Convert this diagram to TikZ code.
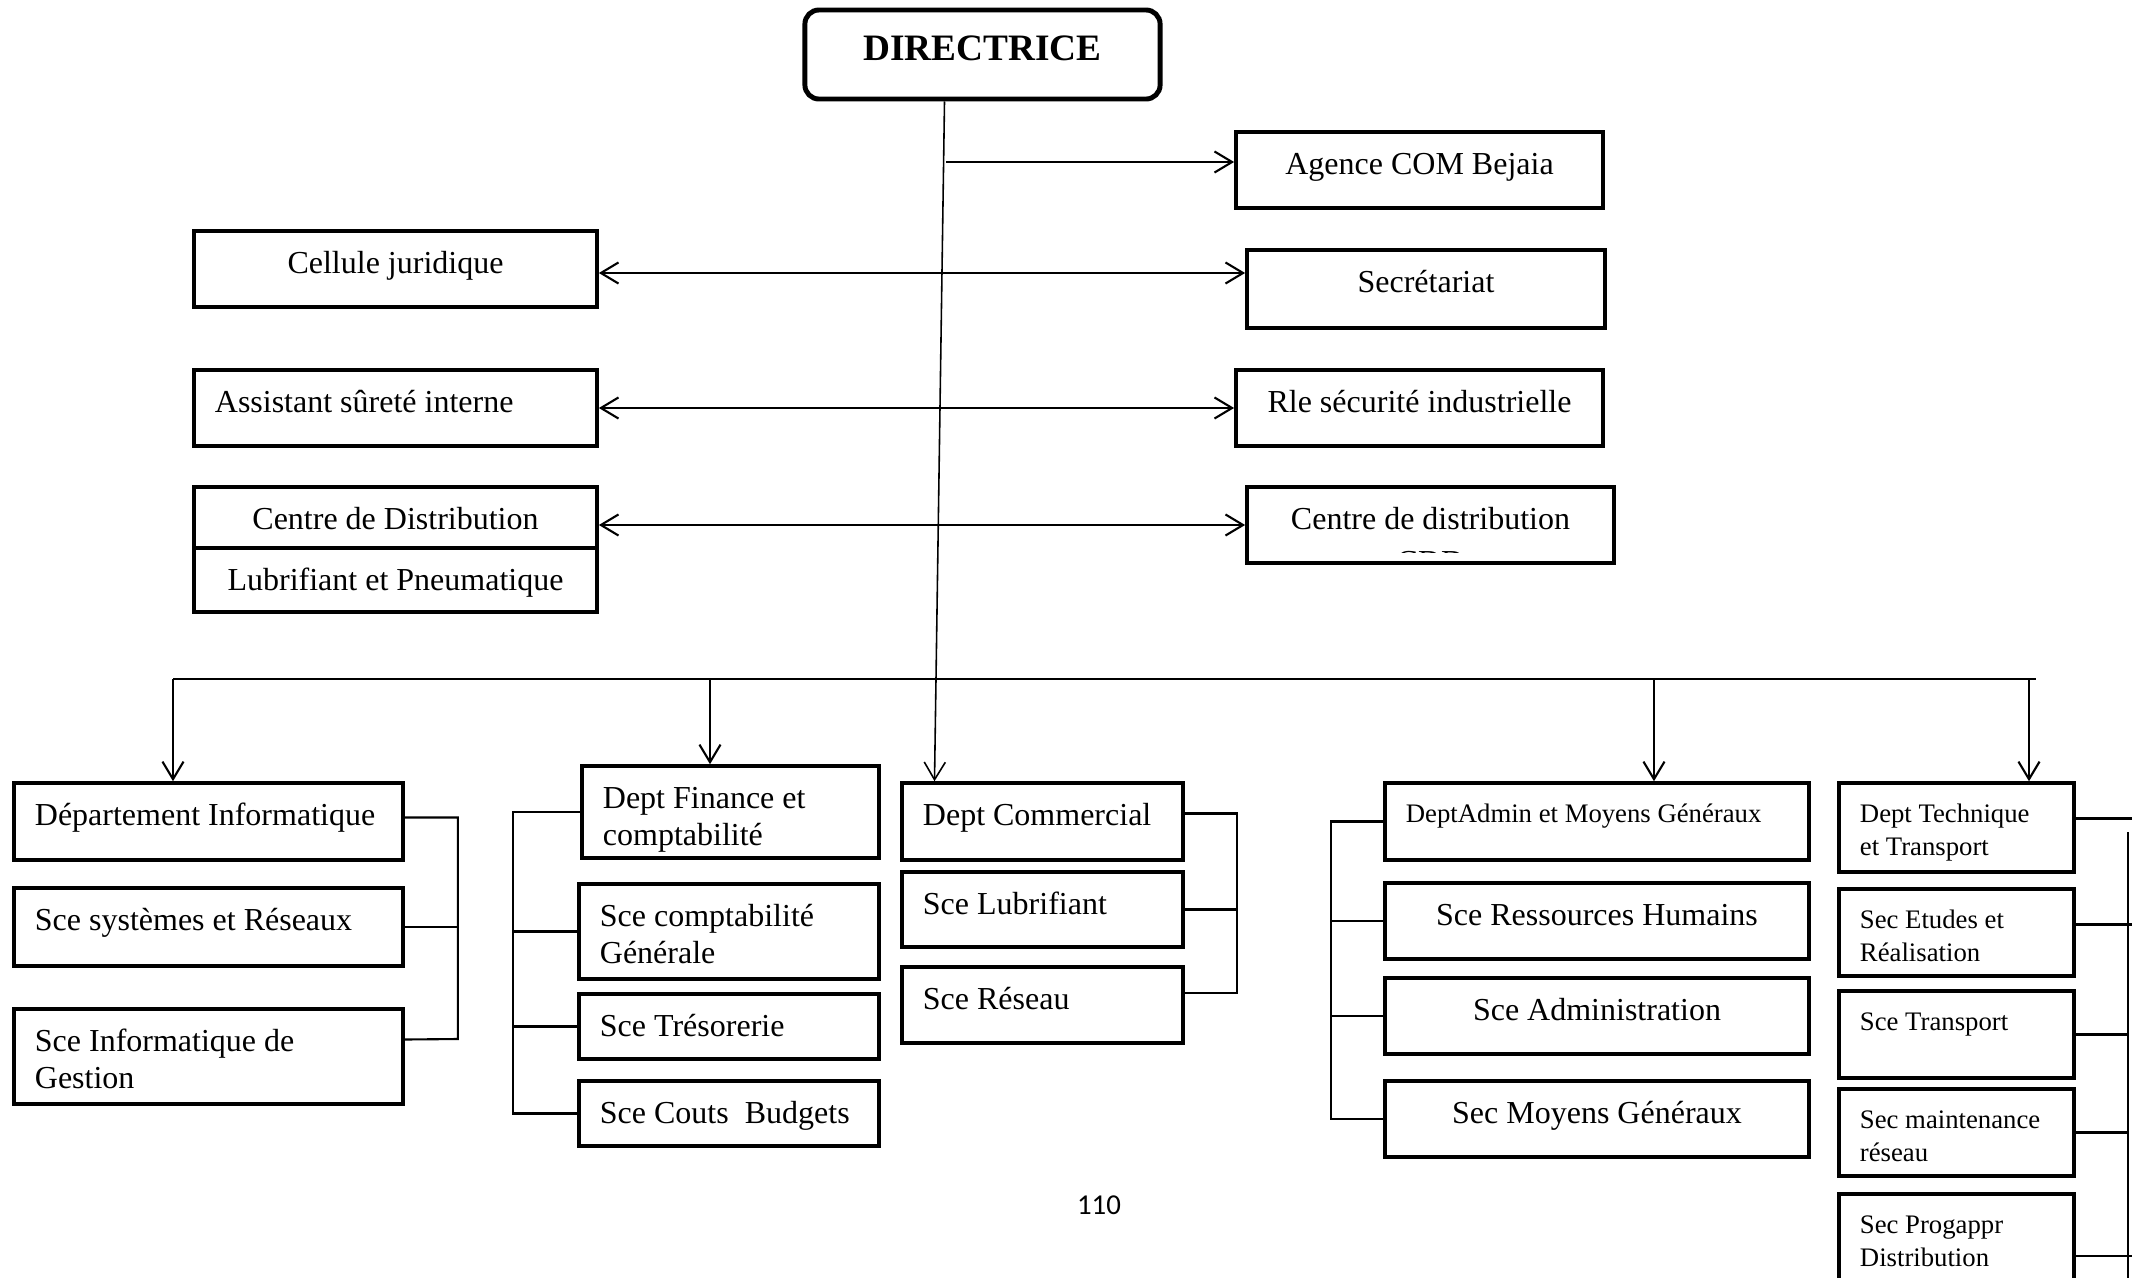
\documentclass[tikz,border=0pt]{standalone}
\usepackage{fontspec}
\setmainfont{Liberation Serif}
\newfontfamily\pagefont{Carlito}
\usetikzlibrary{arrows.meta, positioning, calc}
\newcommand{\fsn}{\fontsize{9.1}{10.4}\selectfont}
\newcommand{\fss}{\fontsize{7.6}{9.6}\selectfont}

\begin{document}
\begin{tikzpicture}[x=0.01cm, y=-0.01cm, >={Straight Barb[length=5pt,width=6pt]}]
    \tikzstyle{box} = [rectangle, draw, line width=1pt, inner xsep=0.21cm, inner ysep=0pt, font=\fsn]
    \tikzstyle{lbox} = [box, align=flush left]
    \tikzstyle{cbox} = [box, align=center]
    \tikzstyle{link} = [line width=0.6pt]
    \tikzset{tline/.style={text height=12.2pt, text depth=#1},
             sline/.style={font=\fss, text height=11.1pt, text depth=#1}}

    \useasboundingbox (0,0) rectangle (2132,1278);

    % direction
    \node[cbox, rounded corners=4pt, line width=1.4pt, minimum width=3.55cm, minimum height=0.89cm, text depth=3.6pt, font=\fontsize{10.6}{12}\selectfont\bfseries] (dir) at (982.5,54.5) {DIRECTRICE};

    \node[cbox, tline=9.42pt, minimum width=3.67cm, minimum height=0.76cm] (agence) at (1419.5,170) {Agence COM Bejaia};
    \node[cbox, tline=9.42pt, minimum width=4.03cm, minimum height=0.76cm] (cellule) at (395.5,269) {Cellule juridique};
    \node[cbox, tline=9.99pt, minimum width=3.58cm, minimum height=0.78cm] (secr) at (1426,289) {Secrétariat};
    \node[lbox, tline=9.42pt, text width=3.61cm, minimum height=0.76cm] (assist) at (395.5,408) {Assistant sûreté interne};
    \node[cbox, tline=9.42pt, minimum width=3.67cm, minimum height=0.76cm] (rle) at (1419.5,408) {Rle sécurité industrielle};
    \node[cbox, tline=5.16pt, minimum width=4.03cm, minimum height=0.61cm] (cdl) at (395.5,517.5) {Centre de Distribution};
    \node[cbox, tline=6.01pt, minimum width=4.03cm, minimum height=0.64cm] (lp) at (395.5,580) {Lubrifiant et Pneumatique};
    \node[box, minimum width=3.67cm, minimum height=0.76cm] (cdd) at (1430.5,525) {};
    \begin{scope}
        \clip (cdd.north west) rectangle (1614,552);
        \node[align=center, anchor=north, inner sep=0pt, font=\fontsize{9.1}{12}\selectfont] (cddtxt) at (1430.5,507) {Centre de distribution\\CDD};
    \end{scope}

    % departements
    \node[lbox, tline=9.71pt, text width=3.47cm, minimum height=0.77cm] (dinfo) at (208.5,821.5) {Département Informatique};
    \node[lbox, tline=9.99pt, text width=3.47cm, minimum height=0.78cm] (ssr) at (208.5,927) {Sce systèmes et Réseaux};
    \node[lbox, tline=14.83pt, text width=3.47cm, minimum height=0.95cm] (sig) at (208.5,1056.5) {Sce Informatique de\\Gestion};

    \node[lbox, tline=13.98pt, text width=2.55cm, minimum height=0.92cm] (dfin) at (730.5,812) {Dept Finance et\\comptabilité};
    \node[lbox, tline=14.83pt, text width=2.58cm, minimum height=0.95cm] (sgen) at (729,931.5) {Sce comptabilité\\Générale};
    \node[lbox, tline=6.29pt, text width=2.58cm, minimum height=0.65cm] (stres) at (729,1026.5) {Sce Trésorerie};
    \node[lbox, tline=6.29pt, text width=2.58cm, minimum height=0.65cm] (scb) at (729,1113.5) {Sce Couts\ \ Budgets};

    \node[lbox, tline=9.71pt, text width=2.39cm, minimum height=0.77cm] (dcom) at (1042.5,821.5) {Dept Commercial};
    \node[lbox, tline=9.14pt, text width=2.39cm, minimum height=0.75cm] (slub) at (1042.5,909.5) {Sce Lubrifiant};
    \node[lbox, tline=9.42pt, text width=2.39cm, minimum height=0.76cm] (sres) at (1042.5,1005) {Sce Réseau};

    \node[lbox, sline=10.81pt, text width=3.82cm, minimum height=0.77cm] (dadm) at (1597,821.5) {DeptAdmin et Moyens Généraux};
    \node[cbox, tline=9.42pt, minimum width=4.24cm, minimum height=0.76cm] (srh) at (1597,921) {Sce Ressources Humains};
    \node[cbox, tline=9.42pt, minimum width=4.24cm, minimum height=0.76cm] (sadm) at (1597,1016) {Sce Administration};
    \node[cbox, tline=9.42pt, minimum width=4.24cm, minimum height=0.76cm] (smg) at (1597,1119) {Sec Moyens Généraux};

    \node[lbox, sline=14.22pt, text width=1.93cm, minimum height=0.89cm] (dtech) at (1956.5,827.5) {Dept Technique\\et Transport};
    \node[lbox, sline=13.65pt, text width=1.93cm, minimum height=0.87cm] (setr) at (1956.5,932.5) {Sec Etudes et\\Réalisation};
    \node[lbox, sline=13.65pt, text width=1.93cm, minimum height=0.87cm] (stra) at (1956.5,1034.5) {Sce Transport};
    \node[lbox, sline=13.65pt, text width=1.93cm, minimum height=0.87cm] (smain) at (1956.5,1132.5) {Sec maintenance\\réseau};
    \node[lbox, sline=16.21pt, text width=1.93cm, minimum height=0.96cm] (sprog) at (1956.5,1242) {Sec Progappr\\Distribution};

    \node[font=\pagefont\fontsize{8.2}{10}\selectfont] (pnum) at (1099,1205) {110};

    % liaisons directes
    \draw[line width=0.45pt, ->] ($(dir.south)+(-38,0)$) -- ($(dcom.north)+(-108,0)$);
    \coordinate (tk1) at (946,162);
    \draw[link, ->] (tk1) -- (tk1 -| agence.west);
    \draw[link, <->] ($(cellule.east)+(0,4)$) -- ($(cellule.east -| secr.west)+(0,4)$);
    \draw[link, <->] (assist.east) -- (rle.west);
    \draw[link, <->] (cdd.west -| cdl.east) -- (cdd.west);

    % bus des departements
    \coordinate (busL) at (173,679);
    \coordinate (busR) at (2036,679);
    \coordinate (bFin) at (710,679);
    \coordinate (bAdm) at (1654,679);
    \coordinate (bTech) at (2029,679);
    \draw[link] (busL) -- (busR);
    \draw[link, ->] (busL) -- (busL |- dinfo.north);
    \draw[link, ->] (bFin) -- (bFin |- dfin.north);
    \draw[link, ->] (bAdm) -- (bAdm |- dadm.north);
    \draw[link, ->] (bTech) -- (bTech |- dtech.north);

    % services
    \draw[link] ($(dinfo.east)+(0,-4)$) -- ++(53,0) coordinate (k1) -- (k1 |- 0,1039) -- ($(sig.east)+(0,-17)$);
    \draw[link] (ssr.east) -- (ssr.east -| k1);

    \draw[link] (dfin.west) -- ++(-67,0) coordinate (k2) -- (k2 |- scb.west) -- (scb.west);
    \draw[link] (sgen.west) -- (sgen.west -| k2);
    \draw[link] (stres.west) -- (stres.west -| k2);

    \draw[link] ($(dcom.east)+(0,-8)$) -- ++(52,0) coordinate (k3) -- (k3 |- 0,993) -- ($(sres.east)+(0,-12)$);
    \draw[link] (slub.east) -- (slub.east -| k3);

    \draw[link] (dadm.west) -- ++(-52,0) coordinate (k4) -- (k4 |- smg.west) -- (smg.west);
    \draw[link] (srh.west) -- (srh.west -| k4);
    \draw[link] (sadm.west) -- (sadm.west -| k4);

    \draw[link] ($(dtech.east)+(0,-9)$) -- ++(60,0);
    \coordinate (k5) at (2128,832);
    \draw[link] (k5) -- (k5 |- sprog.south);
    \draw[link] ($(setr.east)+(0,-8)$) -- ++(60,0);
    \draw[link] (stra.east) -- (stra.east -| k5);
    \draw[link] (smain.east) -- (smain.east -| k5);
    \draw[link] ($(sprog.east)+(0,14)$) -- ++(60,0);
\end{tikzpicture}
\end{document}
